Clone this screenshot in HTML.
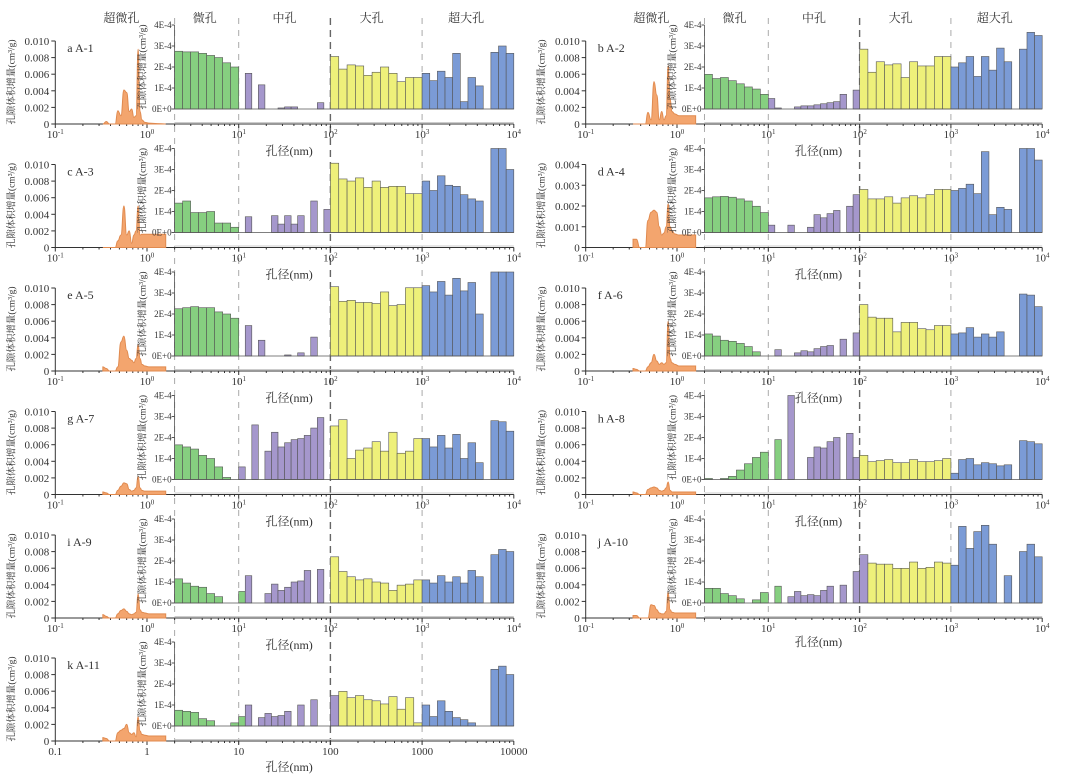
<!DOCTYPE html>
<html><head><meta charset="utf-8"><style>
html,body{margin:0;padding:0;background:#fff;}
svg{display:block;font-family:"Liberation Serif","Noto Serif CJK SC",serif;}
</style></head><body>
<svg id="fig" width="1080" height="783" viewBox="0 0 1080 783"></svg>
<script>
// ---- data (inset values in units of 1E-4 cm3/g; orange in 1E-3 cm3/g) ----
const panelLabels = ["a  A-1","b A-2","c  A-3","d A-4","e  A-5","f A-6","g  A-7","h  A-8","i  A-9","j  A-10","k  A-11"];
const outerMax = [0.010,0.010,0.010,0.004,0.010,0.010,0.010,0.010,0.010,0.010,0.010];
const greenVals = [
 [2.75,2.72,2.72,2.65,2.55,2.45,2.2,2.0],
 [1.65,1.45,1.5,1.35,1.2,1.05,0.95,0.7],
 [1.4,1.5,0.95,0.95,1.0,0.45,0.45,0.25],
 [1.65,1.7,1.72,1.68,1.6,1.5,1.25,0.95],
 [2.25,2.3,2.35,2.3,2.3,2.1,2.0,1.8],
 [1.05,0.95,0.75,0.7,0.6,0.45,0.2,0],
 [1.65,1.55,1.45,1.15,1.0,0.6,0.1,0],
 [0.05,0,0.05,0.15,0.45,0.75,1.05,1.3],
 [1.15,0.95,0.8,0.75,0.45,0.3,0,0],
 [0.7,0.7,0.45,0.35,0.2,0,0.15,0.5],
 [0.75,0.7,0.65,0.35,0.25,0,0,0.15]];
const purpleVals = [
 [0,1.7,0,1.15,0,0,0.05,0.1,0.1,0,0,0,0.3,0],
 [0.5,0.05,0,0,0.1,0.15,0.15,0.2,0.25,0.3,0.35,0.7,0,0.9],
 [0,0.75,0,0,0,0.8,0.4,0.8,0.4,0.8,0,1.5,0,1.1],
 [0.35,0,0,0.35,0,0,0.25,0.85,0.7,0.9,1.05,0,1.25,1.8],
 [0,1.45,0,0.75,0,0,0,0.05,0,0.15,0,0.9,0,0],
 [0,0.3,0,0,0.15,0.25,0.2,0.35,0.45,0.5,0,0.8,0,1.1],
 [0.6,0,2.6,0,1.35,2.25,1.55,1.75,1.9,1.95,2.1,2.45,2.95,0],
 [0,1.9,0,4.0,0,0,1.05,1.55,1.5,1.8,2.0,0,2.2,1.05],
 [0.55,1.3,0,0,0.45,0.9,0.6,0.75,1.0,1.05,1.55,0,1.6,0],
 [0,0.8,0,0.3,0.55,0.35,0.4,0.35,0.6,0.8,0,0.85,0,1.5],
 [0.45,1.0,0,0.4,0.6,0.45,0.5,0.7,0,1.0,0,1.25,0,0]];
const yellowVals = [
 [2.5,1.9,2.1,2.05,1.6,1.75,2.0,1.7,1.3,1.5,1.5],
 [2.85,1.75,2.25,2.1,2.15,1.5,2.25,2.05,2.05,2.5,2.5],
 [3.3,2.55,2.45,2.6,2.15,2.45,2.15,2.2,2.2,1.85,1.85],
 [2.05,1.6,1.6,1.7,1.4,1.65,1.75,1.65,1.8,2.05,2.05],
 [3.3,2.6,2.65,2.55,2.55,2.5,3.05,2.4,2.45,3.25,3.25],
 [2.45,1.85,1.8,1.8,1.15,1.6,1.6,1.3,1.25,1.45,1.45],
 [2.55,2.85,1.0,1.4,1.5,1.8,1.35,2.25,1.25,1.35,1.95],
 [1.15,0.85,0.9,0.95,0.8,0.8,0.95,0.85,0.85,0.9,1.0],
 [2.2,1.5,1.25,1.1,1.15,1.0,0.95,0.6,0.85,0.9,1.1],
 [2.3,1.9,1.85,1.85,1.65,1.65,1.95,1.65,1.7,1.95,1.9],
 [1.45,1.65,1.35,1.45,1.25,1.2,1.05,1.4,0.8,1.35,0.15]];
const blueVals = [
 [1.7,1.35,1.8,1.5,2.65,0.35,1.5,1.1,0,2.7,3.0,2.65],
 [2.0,2.2,2.5,1.55,2.5,1.85,2.9,2.25,0,2.85,3.65,3.5],
 [2.45,2.0,2.7,2.25,2.2,1.8,1.6,1.5,0,4,4,3.0],
 [2.0,2.1,2.3,1.85,3.85,0.85,1.2,1.1,0,4,4,3.45],
 [3.35,3.05,3.55,2.9,3.7,3.1,3.5,2.0,0,4,4,4],
 [1.05,1.1,1.35,0.9,1.05,0.9,1.15,0,0,2.95,2.9,2.35],
 [1.95,1.55,2.1,1.5,2.15,1.0,1.75,0.8,0,2.8,2.75,2.3],
 [0.3,0.95,1.0,0.7,0.8,0.75,0.65,0.7,0,1.85,1.8,1.7],
 [1.1,0.95,1.3,1.0,1.25,0.95,1.55,1.25,0,2.3,2.55,2.45],
 [1.8,3.65,2.6,3.4,3.7,2.8,0,1.3,0,2.45,2.8,2.2],
 [1.0,0.45,1.2,0.7,0.4,0.3,0.15,0,0,2.7,2.85,2.45]];
const greenExtra = [0,0,0,0,0,0,0,2,1,2,1];
const purpleExtra = [0,0,0,0,0,0,0,0,0,1,1];
const orangeNm = [0.33,0.36,0.39,0.45,0.48,0.52,0.56,0.6,0.64,0.68,0.72,0.76,0.8,0.84,0.88,0.95,1.05,1.3,1.6];
const orangeVals = [
 [0,0.3,0,0,1.6,1.0,4.1,3.8,1.5,1.8,0.8,1.0,9.0,1.5,0.5,0.2,0.1,0.05,0],
 [0,0,0,0,1.4,0.5,5.1,3.5,0.5,1.5,0.5,1.0,7.0,3.0,1.5,1.2,1.0,1.0,1.0],
 [0,0,0,0,0.8,1.5,5.0,1.5,2.0,0.5,1.5,2.0,5.0,1.5,1.6,1.6,1.6,1.6,1.6],
 [0.4,0.4,0,0,1.3,1.7,1.8,1.7,1.0,0.6,0.7,1.0,2.1,1.0,0.8,0.65,0.6,0.6,0.6],
 [0.5,0.3,0,0,0.5,3.5,4.2,2.5,1.5,1.3,1.0,1.5,3.2,1.5,0.8,0.6,0.5,0.5,0.5],
 [0.3,0.2,0,0,0.5,1.0,2.0,1.2,0.8,1.0,0.8,1.0,6.0,1.5,1.0,0.8,0.6,0.6,0.6],
 [0.3,0.2,0,0,0.5,1.0,1.4,1.3,0.6,0.4,0.5,0.8,2.2,0.8,0.5,0.4,0.4,0.4,0.4],
 [0.3,0.2,0,0,0.6,0.8,0.9,0.8,0.5,0.4,0.5,0.8,1.5,0.5,0.3,0.3,0.3,0.3,0.3],
 [0.4,0.2,0,0,0.5,0.9,1.1,0.8,0.5,0.4,0.5,0.7,2.9,1.0,0.7,0.6,0.5,0.5,0.5],
 [0.3,0.3,0,0,0,1.6,1.5,1.0,0.6,0.5,0.5,0.8,3.1,1.0,0.7,0.6,0.6,0.6,0.6],
 [0.4,0.3,0,0,1.0,1.3,1.5,2.0,1.0,0.8,1.0,0.5,2.9,1.2,0.8,0.7,0.6,0.6,0.6]];
const insetTicks = ["0E+0","1E-4","2E-4","3E-4","4E-4"];
const decadeSup = ["-1","0","1","2","3","4"];
const plainTicks = ["0.1","1","10","100","1000","10000"];
const regionNames = ["超微孔","微孔","中孔","大孔","超大孔"];
const regionLog = [-0.28,0.63,1.5,2.45,3.48];

// ---- layout ----
const NS="http://www.w3.org/2000/svg";
const svg=document.getElementById('fig');
const colX0=[147,677], colDec=[91.7,91.3];
const zeroY=[124,247.5,371,494.5,618,741];
function mk(tag,attrs,parent){const e=document.createElementNS(NS,tag);for(const k in attrs)e.setAttribute(k,attrs[k]);(parent||svg).appendChild(e);return e;}
function xs(col,l){return colX0[col]+colDec[col]*l;}
const FS=11, INK="#333";
const colors={g:"#86cf80",p:"#a597cc",y:"#eef07a",b:"#7b9bd6"};

[0,1].forEach(col=>{
  const bottom = col===0?745:622;
  [0.301,1,2,3].forEach(l=>{
    const d=mk('line',{x1:xs(col,l),x2:xs(col,l),y1:18,y2:bottom,stroke:l===2?"#666":"#aaa",'stroke-width':l===2?1.4:1,'stroke-dasharray':l===2?"7,5":"6,6"});
    
    
  });
  regionNames.forEach((n,i)=>{
    const t=mk('text',{x:xs(col,regionLog[i]),y:22,'font-size':12,'text-anchor':'middle',fill:INK});
    t.textContent=n;
    
    
  });
});

for(let p=0;p<11;p++){
  const col=p%2, row=Math.floor(p/2), z=zeroY[row];
  const g=mk('g',{});
  
  
  const x0=xs(col,-1), x1=xs(col,4), oh=83;
  mk('line',{x1:xs(col,0.3),x2:x1,y1:z-1.5,y2:z-1.5,stroke:"#ccc",'stroke-width':1},g);
  mk('line',{x1:x0,x2:x1,y1:z,y2:z,stroke:INK,'stroke-width':1},g);
  mk('line',{x1:x0,x2:x0,y1:z,y2:z-oh,stroke:INK,'stroke-width':1},g);
  for(let d=-1;d<=4;d++){
    mk('line',{x1:xs(col,d),x2:xs(col,d),y1:z,y2:z+4,stroke:INK},g);
    if(d<4)for(let m=2;m<10;m++){const xm=xs(col,d+Math.log10(m));mk('line',{x1:xm,x2:xm,y1:z,y2:z+2,stroke:INK},g);}
    const t=mk('text',{x:xs(col,d),y:z+14,'font-size':FS,'text-anchor':'middle',fill:INK},g);
    if(p===10){t.textContent=plainTicks[d+1];}
    else{t.textContent="10";const s=mk('tspan',{dy:-4,'font-size':7},t);s.textContent=decadeSup[d+1];}
    
    
  }
  const ym=outerMax[p], nT=ym===0.004?4:5;
  for(let i=0;i<=nT;i++){
    const v=ym*i/nT, yy=z-oh*v/ym;
    mk('line',{x1:x0-4,x2:x0,y1:yy,y2:yy,stroke:INK},g);
    const t=mk('text',{x:x0-6,y:yy+4,'font-size':FS,'text-anchor':'end',fill:INK},g);
    t.textContent=i===0?"0":v.toFixed(3);
    
    
  }
  const yt=mk('text',{x:0,y:0,'font-size':9.5,'text-anchor':'middle',fill:INK,transform:`translate(${x0-41},${z-42}) rotate(-90)`},g);
  yt.textContent="孔隙体积增量(cm³/g)";
  
  
  const lb=mk('text',{x:x0+12,y:z-72,'font-size':12,fill:INK,'xml:space':'preserve'},g);
  lb.textContent=panelLabels[p];
  
  
  let pts=[];
  orangeNm.forEach((nm,i)=>{pts.push([xs(col,Math.log10(nm)),z-oh*Math.min(orangeVals[p][i]*1e-3,ym)/ym]);});
  let dstr=`M${pts[0][0]},${z}L${pts[0][0]},${pts[0][1]}`;
  for(let i=1;i<pts.length;i++){const mx=(pts[i-1][0]+pts[i][0])/2;dstr+=`C${mx},${pts[i-1][1]} ${mx},${pts[i][1]} ${pts[i][0]},${pts[i][1]}`;}
  dstr+=`L${pts[pts.length-1][0]},${z}Z`;
  const oc=mk('path',{d:dstr,fill:"#f3a56e",stroke:"#e08a4f",'stroke-width':1},g);
  
  
  const iz=z-15, ih=84, il=xs(col,0.301);
  const ranges=[[0.301,1,greenVals[p],'g'],[1,2,purpleVals[p],'p'],[2,3,yellowVals[p],'y'],[3,4,blueVals[p],'b']];
  ranges.forEach((r,ri)=>{
    const n=r[2].length, w=(r[1]-r[0])/n;
    r[2].forEach((v,i)=>{
      if(v<=0)return;
      let c=r[3];
      if(ri===1&&i<greenExtra[p])c='g';
      if(ri===2&&i<purpleExtra[p])c='p';
      const xa=xs(col,r[0]+w*i), xb=xs(col,r[0]+w*(i+1));
      const h=ih*Math.min(v,4)/4;
      const b=mk('rect',{x:xa,y:iz-h,width:xb-xa,height:h,fill:colors[c],stroke:"#555",'stroke-width':0.6},g);
      
      
    });
  });
  mk('line',{x1:il,x2:x1,y1:iz,y2:iz,stroke:"#555",'stroke-width':0.8},g);
  mk('line',{x1:il,x2:il,y1:iz,y2:iz-ih,stroke:"#555",'stroke-width':0.8},g);
  insetTicks.forEach((s,i)=>{
    const yy=iz-ih*i/4;
    mk('line',{x1:il-3,x2:il,y1:yy,y2:yy,stroke:"#555"},g);
    const t=mk('text',{x:il-3,y:yy+3,'font-size':9,'text-anchor':'end',fill:INK},g);
    t.textContent=s;
    
    
  });
  const it=mk('text',{x:0,y:0,'font-size':9.5,'text-anchor':'middle',fill:INK,transform:`translate(${il-29},${iz-ih/2}) rotate(-90)`},g);
  it.textContent="孔隙体积增量(cm³/g)";
  
  
  const xt=mk('text',{x:xs(col,1.55),y:z+(p===10?30:(p===9?28:31)),'font-size':12,'text-anchor':'middle',fill:INK},g);
  xt.textContent="孔径(nm)";
  
  
}
</script>
</body></html>
